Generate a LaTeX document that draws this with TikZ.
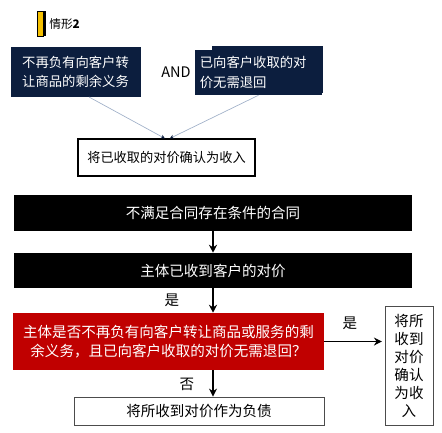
\documentclass[tikz,border=0pt]{standalone}
\usepackage{fontspec}
\setmainfont{Noto Sans CJK SC}
\usetikzlibrary{arrows.meta}

\definecolor{navy}{RGB}{12,30,62}
\definecolor{darkred}{RGB}{192,0,0}
\definecolor{gold}{RGB}{245,192,0}
\definecolor{thinline}{RGB}{160,176,200}

\begin{document}
\begin{tikzpicture}[x=0.75pt,y=0.75pt,yscale=-1,xscale=1,
  navybox/.style={fill=navy,text=white,inner sep=0pt,font=\fontsize{10}{14.5}\selectfont},
  blackbox/.style={fill=black,text=white,minimum width=298.5pt,inner sep=0pt,font=\fontsize{10.9}{13}\selectfont},
  whitebox/.style={draw=black!70,fill=white,inner sep=0pt,font=\fontsize{10.9}{13.5}\selectfont},
  lbl/.style={inner sep=0pt,font=\fontsize{10.9}{13}\selectfont},
  arr/.style={-{Stealth[length=6pt,width=6pt]},line width=0.9pt},
  thinarr/.style={-{Stealth[length=3pt,width=3pt,color=navy]},draw=thinline,line width=0.5pt}]
\useasboundingbox (0,0) rectangle (442,432);

%Title bar
\filldraw [fill=gold,draw=black,line width=0.3pt] (37,11) rectangle (43,36) ;
\fill [black] (43,11) rectangle (46,36) ;
% Text Node
\node (title) [anchor=west,inner sep=0pt,font=\fontsize{8.8}{11}\selectfont] at (49,24) {情形\textbf{2}};

%Upper part
\node (cond1) [navybox,minimum width=97.5pt,minimum height=37.5pt,align=center] at (75.5,71.7) {不再负有向客户转\\让商品的剩余义务};
\node (and) [lbl] at (176,72) {AND};
\fill [navy] (212,46) rectangle (323,93) ;
\node (cond2) [navybox,minimum width=95.25pt,minimum height=33.75pt,text width=88pt,align=left] at (258.5,72.5) {已向客户收取的对\\价无需退回};
\node (income1) [whitebox,draw=black,line width=0.9pt,minimum width=132.75pt,minimum height=27.75pt,font=\fontsize{9.9}{12}\selectfont] at (166.5,157.5) {将已收取的对价确认为收入};

\draw [thinarr] (cond1.-62) -- (income1.95) ;
\draw [thinarr] (cond2.south) -- (income1.80) ;

%Flow
\node (nocontract) [blackbox,minimum height=27pt] at (213,213) {不满足合同存在条件的合同};
\node (received) [blackbox,minimum height=26.25pt] at (213,270.5) {主体已收到客户的对价};
\node (question) [fill=darkred,text=white,inner sep=0pt,minimum width=233.25pt,minimum height=42.75pt,align=center,font=\fontsize{10.9}{14}\selectfont] at (168.5,341.5) {主体是否不再负有向客户转让商品或服务的剩\\余义务，且已向客户收取的对价无需退回？};
\node (income2) [whitebox,line width=0.6pt,minimum width=36pt,minimum height=89.25pt,align=center] at (409,365.5) {将所\\收到\\对价\\确认\\为收\\入};
\node (liability) [whitebox,line width=0.6pt,minimum width=187.5pt,minimum height=21pt] at (199,411) {将所收到对价作为负债};

\draw [arr] (nocontract.south) -- (received.north) ;
\draw [arr] (received.south) -- (received.south |- question.north) ;
\draw [arr] (question.east) -- ([xshift=-2pt]income2.west |- question.east) ;
\draw [arr] (question.south -| received.south) -- (received.south |- liability.north) ;

% Text Node
\node (yes1) [lbl] at (172,300) {是};
\node (yes2) [lbl] at (350,323) {是};
\node (no) [lbl] at (187,384) {否};

\end{tikzpicture}
\end{document}
